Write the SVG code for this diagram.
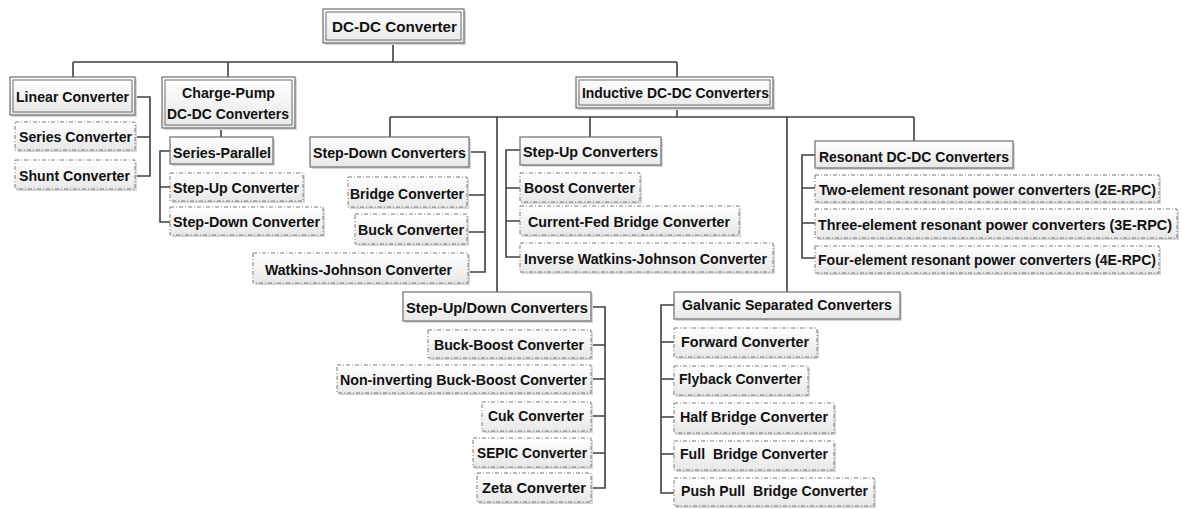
<svg xmlns="http://www.w3.org/2000/svg" width="1183" height="509" viewBox="0 0 1183 509">
<defs>
<linearGradient id="g" x1="0" y1="0" x2="0" y2="1">
<stop offset="0" stop-color="#ffffff"/>
<stop offset="1" stop-color="#e8e8e8"/>
</linearGradient>
</defs>
<style>
.sh{fill:#d6d6d6;stroke:none}
.b{fill:url(#g);stroke:#6e6e6e;stroke-width:1.2}
.bi{fill:none;stroke:#6e6e6e;stroke-width:1}
.d{fill:url(#g);stroke:#7a7a7a;stroke-width:1;stroke-dasharray:4 2 1 2}
.t{font-family:"Liberation Sans",Arial,sans-serif;font-weight:bold;font-size:15px;fill:#111}
.c{fill:none;stroke:#404040;stroke-width:1.6}
</style>
<rect width="1183" height="509" fill="#ffffff"/>
<g id="connectors" class="c">
<path d="M393,43 V62 M73,62 H677 M73,62 V77 M228,62 V77 M677,62 V77"/>
<path d="M135,97 H150 V176 H135 M135,137 H150"/>
<path d="M221,128 V137 M170,151 H160 V222 H170 M160,187 H170"/>
<path d="M677,108 V117 M390,117 H914 M390,117 V137 M497,117 V292 M590,117 V137 M787,117 V292 M914,117 V141"/>
<path d="M469,152 H485 V272 H468 M467,195 H485 M467,232 H485"/>
<path d="M520,150 H506 V257 H520 M506,188 H520 M506,221 H520"/>
<path d="M815,155 H802 V258 H815 M802,188 H815 M802,223 H815"/>
<path d="M591,307 H605 V488 H591 M591,345 H605 M591,379 H605 M591,416 H605 M591,453 H605"/>
<path d="M674,305 H661 V493 H674 M661,342 H674 M661,379 H674 M661,417 H674 M661,454 H674"/>
</g>
<g id="n-root"><rect class="sh" x="325" y="11" width="141" height="34"/><rect class="b" x="323" y="9" width="141" height="34"/><rect class="bi" x="326" y="12" width="135" height="28"/><text class="t" x="332" y="32" font-size="17" textLength="125" lengthAdjust="spacingAndGlyphs">DC-DC Converter</text></g>
<g id="n-linear"><rect class="sh" x="12" y="79" width="125" height="38"/><rect class="b" x="10" y="77" width="125" height="38"/><rect class="bi" x="13" y="80" width="119" height="32"/><text class="t" x="16" y="102" textLength="113" lengthAdjust="spacingAndGlyphs">Linear Converter</text></g>
<g id="n-chargepump"><rect class="sh" x="164" y="79" width="133" height="51"/><rect class="b" x="162" y="77" width="133" height="51"/><rect class="bi" x="165" y="80" width="127" height="45"/><text class="t" x="182" y="98" textLength="93" lengthAdjust="spacingAndGlyphs">Charge-Pump</text><text class="t" x="167" y="119" textLength="122" lengthAdjust="spacingAndGlyphs">DC-DC Converters</text></g>
<g id="n-inductive"><rect class="sh" x="578" y="79" width="197" height="31"/><rect class="b" x="576" y="77" width="197" height="31"/><rect class="bi" x="579" y="80" width="191" height="25"/><text class="t" x="582" y="98" textLength="187" lengthAdjust="spacingAndGlyphs">Inductive DC-DC Converters</text></g>
<g id="n-series"><rect class="sh" x="17" y="124" width="120" height="28"/><rect class="d" x="15" y="122" width="120" height="28"/><text class="t" x="19" y="142" textLength="113" lengthAdjust="spacingAndGlyphs">Series Converter</text></g>
<g id="n-shunt"><rect class="sh" x="17" y="162" width="120" height="29"/><rect class="d" x="15" y="160" width="120" height="29"/><text class="t" x="19" y="181" textLength="111" lengthAdjust="spacingAndGlyphs">Shunt Converter</text></g>
<g id="n-seriesparallel"><rect class="sh" x="172" y="139" width="103" height="27"/><rect class="b" x="170" y="137" width="103" height="27"/><text class="t" x="173" y="158" textLength="98" lengthAdjust="spacingAndGlyphs">Series-Parallel</text></g>
<g id="n-cp-stepup"><rect class="sh" x="172" y="175" width="133" height="28"/><rect class="d" x="170" y="173" width="133" height="28"/><text class="t" x="173" y="193" textLength="126" lengthAdjust="spacingAndGlyphs">Step-Up Converter</text></g>
<g id="n-cp-stepdown"><rect class="sh" x="172" y="209" width="153" height="28"/><rect class="d" x="170" y="207" width="153" height="28"/><text class="t" x="173" y="227" textLength="147" lengthAdjust="spacingAndGlyphs">Step-Down Converter</text></g>
<g id="n-stepdown"><rect class="sh" x="312" y="139" width="159" height="30"/><rect class="b" x="310" y="137" width="159" height="30"/><text class="t" x="313" y="158" textLength="153" lengthAdjust="spacingAndGlyphs">Step-Down Converters</text></g>
<g id="n-bridge"><rect class="sh" x="350" y="179" width="119" height="30"/><rect class="d" x="348" y="177" width="119" height="30"/><text class="t" x="350" y="199" textLength="114" lengthAdjust="spacingAndGlyphs">Bridge Converter</text></g>
<g id="n-buck"><rect class="sh" x="357" y="216" width="112" height="30"/><rect class="d" x="355" y="214" width="112" height="30"/><text class="t" x="358" y="235" textLength="106" lengthAdjust="spacingAndGlyphs">Buck Converter</text></g>
<g id="n-wj"><rect class="sh" x="255" y="255" width="215" height="30"/><rect class="d" x="253" y="253" width="215" height="30"/><text class="t" x="265" y="275" textLength="187" lengthAdjust="spacingAndGlyphs">Watkins-Johnson Converter</text></g>
<g id="n-stepup"><rect class="sh" x="522" y="139" width="141" height="28"/><rect class="b" x="520" y="137" width="141" height="28"/><text class="t" x="523" y="157" textLength="135" lengthAdjust="spacingAndGlyphs">Step-Up Converters</text></g>
<g id="n-boost"><rect class="sh" x="522" y="175" width="120" height="29"/><rect class="d" x="520" y="173" width="120" height="29"/><text class="t" x="524" y="193" textLength="111" lengthAdjust="spacingAndGlyphs">Boost Converter</text></g>
<g id="n-currentfed"><rect class="sh" x="522" y="208" width="219" height="29"/><rect class="d" x="520" y="206" width="219" height="29"/><text class="t" x="528" y="227" textLength="202" lengthAdjust="spacingAndGlyphs">Current-Fed Bridge Converter</text></g>
<g id="n-invwj"><rect class="sh" x="522" y="245" width="253" height="29"/><rect class="d" x="520" y="243" width="253" height="29"/><text class="t" x="524" y="264" textLength="243" lengthAdjust="spacingAndGlyphs">Inverse Watkins-Johnson Converter</text></g>
<g id="n-resonant"><rect class="sh" x="817" y="143" width="198" height="27"/><rect class="b" x="815" y="141" width="198" height="27"/><text class="t" x="819" y="162" textLength="190" lengthAdjust="spacingAndGlyphs">Resonant DC-DC Converters</text></g>
<g id="n-2e"><rect class="sh" x="817" y="177" width="344" height="27"/><rect class="d" x="815" y="175" width="344" height="27"/><text class="t" x="819" y="195" font-size="14" textLength="337" lengthAdjust="spacingAndGlyphs">Two-element resonant power converters (2E-RPC)</text></g>
<g id="n-3e"><rect class="sh" x="817" y="211" width="362" height="29"/><rect class="d" x="815" y="209" width="362" height="29"/><text class="t" x="818" y="230" font-size="13.5" textLength="354" lengthAdjust="spacingAndGlyphs">Three-element resonant power converters (3E-RPC)</text></g>
<g id="n-4e"><rect class="sh" x="817" y="248" width="344" height="27"/><rect class="d" x="815" y="246" width="344" height="27"/><text class="t" x="818" y="265" font-size="14" textLength="338" lengthAdjust="spacingAndGlyphs">Four-element resonant power converters (4E-RPC)</text></g>
<g id="n-updown"><rect class="sh" x="405" y="294" width="188" height="29"/><rect class="b" x="403" y="292" width="188" height="29"/><text class="t" x="406" y="313" textLength="182" lengthAdjust="spacingAndGlyphs">Step-Up/Down Converters</text></g>
<g id="n-buckboost"><rect class="sh" x="430" y="332" width="163" height="28"/><rect class="d" x="428" y="330" width="163" height="28"/><text class="t" x="434" y="350" textLength="150" lengthAdjust="spacingAndGlyphs">Buck-Boost Converter</text></g>
<g id="n-noninv"><rect class="sh" x="339" y="367" width="254" height="28"/><rect class="d" x="337" y="365" width="254" height="28"/><text class="t" x="340" y="385" textLength="247" lengthAdjust="spacingAndGlyphs">Non-inverting Buck-Boost Converter</text></g>
<g id="n-cuk"><rect class="sh" x="484" y="404" width="109" height="29"/><rect class="d" x="482" y="402" width="109" height="29"/><text class="t" x="488" y="421" textLength="96" lengthAdjust="spacingAndGlyphs">Cuk Converter</text></g>
<g id="n-sepic"><rect class="sh" x="475" y="440" width="118" height="29"/><rect class="d" x="473" y="438" width="118" height="29"/><text class="t" x="477" y="458" textLength="110" lengthAdjust="spacingAndGlyphs">SEPIC Converter</text></g>
<g id="n-zeta"><rect class="sh" x="479" y="475" width="114" height="29"/><rect class="d" x="477" y="473" width="114" height="29"/><text class="t" x="482" y="493" textLength="104" lengthAdjust="spacingAndGlyphs">Zeta Converter</text></g>
<g id="n-galvanic"><rect class="sh" x="676" y="294" width="226" height="27"/><rect class="b" x="674" y="292" width="226" height="27"/><text class="t" x="682" y="310" textLength="210" lengthAdjust="spacingAndGlyphs">Galvanic Separated Converters</text></g>
<g id="n-forward"><rect class="sh" x="676" y="330" width="143" height="29"/><rect class="d" x="674" y="328" width="143" height="29"/><text class="t" x="681" y="347" textLength="128" lengthAdjust="spacingAndGlyphs">Forward Converter</text></g>
<g id="n-flyback"><rect class="sh" x="676" y="368" width="134" height="29"/><rect class="d" x="674" y="366" width="134" height="29"/><text class="t" x="679" y="384" textLength="123" lengthAdjust="spacingAndGlyphs">Flyback Converter</text></g>
<g id="n-half"><rect class="sh" x="676" y="405" width="160" height="30"/><rect class="d" x="674" y="403" width="160" height="30"/><text class="t" x="680" y="422" textLength="148" lengthAdjust="spacingAndGlyphs">Half Bridge Converter</text></g>
<g id="n-full"><rect class="sh" x="676" y="443" width="160" height="29"/><rect class="d" x="674" y="441" width="160" height="29"/><text class="t" x="680" y="459" textLength="148" lengthAdjust="spacingAndGlyphs">Full&#160; Bridge Converter</text></g>
<g id="n-push"><rect class="sh" x="676" y="480" width="200" height="28"/><rect class="d" x="674" y="478" width="200" height="28"/><text class="t" x="681" y="496" textLength="187" lengthAdjust="spacingAndGlyphs">Push Pull&#160; Bridge Converter</text></g>
</svg>
